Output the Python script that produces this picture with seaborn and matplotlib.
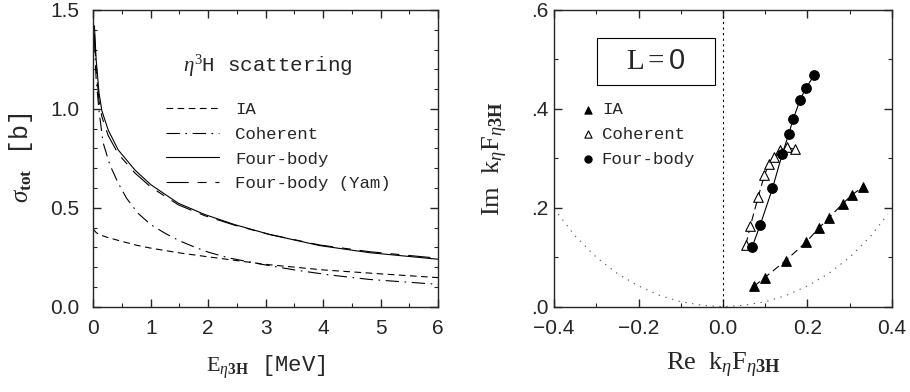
import matplotlib
matplotlib.use("Agg")
import matplotlib.pyplot as plt
from matplotlib.ticker import MultipleLocator, FuncFormatter
from matplotlib.patches import Rectangle
import seaborn as sns
import pandas as pd

# ---------------- data: left panel (total cross section) ----------------
E_ia = [0.0, 0.05, 0.1, 0.25, 0.5, 0.75, 1.0, 1.5, 2.0, 2.5, 3.0, 4.0, 5.0, 6.0]
sig_ia = [0.392, 0.375, 0.365, 0.350, 0.330, 0.311, 0.296, 0.272, 0.252, 0.233, 0.214, 0.186, 0.166, 0.147]

E_coh = [0.02, 0.05, 0.1, 0.17, 0.29, 0.435, 0.58, 0.78, 1.0, 1.25, 1.5, 1.75, 2.0, 2.35, 2.9, 3.5, 4.1, 4.8, 6.0]
sig_coh = [1.35, 1.15, 0.99, 0.83, 0.716, 0.624, 0.548, 0.472, 0.415, 0.371, 0.333, 0.303, 0.276, 0.247, 0.216, 0.186, 0.161, 0.138, 0.113]

E_fb = [0.02, 0.05, 0.1, 0.15, 0.26, 0.435, 0.725, 1.0, 1.48, 1.94, 2.46, 3.07, 3.94, 4.81, 6.0]
sig_fb = [1.42, 1.25, 1.08, 0.99, 0.893, 0.792, 0.691, 0.617, 0.523, 0.466, 0.415, 0.365, 0.309, 0.273, 0.240]

E_yam = [0.02, 0.05, 0.1, 0.15, 0.26, 0.435, 0.725, 1.0, 1.48, 1.94, 2.46, 3.07, 3.94, 4.81, 6.0]
sig_yam = [1.38, 1.20, 1.04, 0.96, 0.865, 0.772, 0.676, 0.605, 0.515, 0.460, 0.412, 0.365, 0.312, 0.278, 0.245]

# ---------------- data: right panel (Argand plot) ----------------
re_ia = [0.073, 0.099, 0.148, 0.196, 0.227, 0.250, 0.283, 0.305, 0.331]
im_ia = [0.041, 0.059, 0.093, 0.130, 0.159, 0.179, 0.208, 0.226, 0.242]

re_coh = [0.054, 0.065, 0.083, 0.098, 0.109, 0.120, 0.134, 0.151, 0.171]
im_coh = [0.125, 0.164, 0.221, 0.266, 0.289, 0.302, 0.317, 0.322, 0.318]

re_fb = [0.069, 0.088, 0.117, 0.140, 0.156, 0.166, 0.182, 0.196, 0.216]
im_fb = [0.121, 0.165, 0.239, 0.308, 0.350, 0.379, 0.417, 0.442, 0.468]

re_unit = [-0.39, -0.35, -0.3, -0.25, -0.2, -0.15, -0.1, -0.05, 0.0, 0.05, 0.1, 0.15, 0.2, 0.25, 0.3, 0.35, 0.39]
im_unit = [0.187, 0.143, 0.100, 0.067, 0.042, 0.023, 0.010, 0.003, 0.0, 0.003, 0.010, 0.023, 0.042, 0.067, 0.100, 0.143, 0.187]

# ---------------- style ----------------
sns.set_style("ticks")
plt.rcParams["font.family"] = ["Liberation Sans", "DejaVu Sans"]
plt.rcParams["mathtext.fontset"] = "custom"
plt.rcParams["mathtext.rm"] = "Liberation Serif"
plt.rcParams["mathtext.it"] = "Liberation Serif:italic"
plt.rcParams["mathtext.bf"] = "Liberation Serif:bold"
plt.rcParams["mathtext.sf"] = "Liberation Sans"
for ax_ in ("xtick", "ytick"):
    plt.rcParams[f"{ax_}.direction"] = "in"
    plt.rcParams[f"{ax_}.major.size"] = 5.5
    plt.rcParams[f"{ax_}.minor.size"] = 3
    plt.rcParams[f"{ax_}.major.width"] = 1.0
    plt.rcParams[f"{ax_}.minor.width"] = 0.8
    plt.rcParams[f"{ax_}.labelsize"] = 15
plt.rcParams["xtick.top"] = True
plt.rcParams["ytick.right"] = True
plt.rcParams["xtick.minor.top"] = True
plt.rcParams["ytick.minor.right"] = True
plt.rcParams["axes.linewidth"] = 1.0

fig = plt.figure(figsize=(9.1, 3.92), dpi=100)
ax1 = fig.add_axes([0.1025, 0.2176, 0.3788, 0.757])
ax2 = fig.add_axes([0.6088, 0.2176, 0.3714, 0.757])

lw = 0.8
mono = ["Liberation Mono", "DejaVu Sans Mono"]
serif = ["Liberation Serif", "DejaVu Serif"]

# ---------------- left panel ----------------
curves = [
    (E_ia, sig_ia, "IA", (6, 4)),
    (E_coh, sig_coh, "Coherent", (12, 5, 1.5, 5)),
    (E_fb, sig_fb, "Four-body", None),
    (E_yam, sig_yam, "Four-body (Yam)", (20, 8, 8, 8)),
]
for xs, ys, lab, dash in curves:
    df = pd.DataFrame({"E": xs, "s": ys})
    sns.lineplot(data=df, x="E", y="s", ax=ax1, color="black", lw=lw,
                 sort=False, estimator=None, label=lab)
    line = ax1.get_lines()[-1]
    if dash is not None:
        line.set_dashes(dash)

ax1.set_xlim(0, 6)
ax1.set_ylim(0, 1.5)
ax1.xaxis.set_major_locator(MultipleLocator(1))
ax1.xaxis.set_minor_locator(MultipleLocator(0.5))
ax1.yaxis.set_major_locator(MultipleLocator(0.5))
ax1.yaxis.set_minor_locator(MultipleLocator(0.1))
ax1.yaxis.set_major_formatter(FuncFormatter(lambda v, p: f"{v:.1f}"))
ax1.tick_params(axis="x", which="major", pad=9)
ax1.tick_params(axis="y", which="major", pad=10)
ax1.set_xlabel(r"$\mathrm{E}_{\eta\mathbf{3H}}$ [MeV]", fontsize=16,
               family=mono, labelpad=11)
ax1.set_ylabel(r"$\sigma_{\mathbf{tot}}$ [b]", fontsize=18, family=mono, labelpad=11)
ax1.text(0.26, 0.81, r"$\eta^3$H scattering", transform=ax1.transAxes,
         fontsize=15, family=mono, va="center")
ax1.legend(loc="upper left", bbox_to_anchor=(0.21, 0.69), frameon=False,
           prop={"family": mono, "size": 12.5}, handlelength=3.1,
           handletextpad=0.9, labelspacing=0.55, borderaxespad=0, borderpad=0)

# ---------------- right panel ----------------
ax2.axvline(0, color="black", lw=0.8, dashes=(2, 3))
du = pd.DataFrame({"re": re_unit, "im": im_unit})
sns.lineplot(data=du, x="re", y="im", ax=ax2, color="0.35", lw=0.8,
             sort=False, estimator=None)
ax2.get_lines()[-1].set_dashes((1.2, 5))

series = [
    (re_ia, im_ia, "IA", "^", "black", (7, 4)),
    (re_coh, im_coh, "Coherent", "^", "white", (7, 4)),
    (re_fb, im_fb, "Four-body", "o", "black", None),
]
for xs, ys, lab, mk, fc, dash in series:
    df = pd.DataFrame({"re": xs, "im": ys})
    sns.lineplot(data=df, x="re", y="im", ax=ax2, color="black", lw=0.8,
                 sort=False, estimator=None)
    if dash is not None:
        ax2.get_lines()[-1].set_dashes(dash)
    sns.scatterplot(data=df, x="re", y="im", ax=ax2, marker=mk, s=48,
                    facecolor=fc, edgecolor="black", linewidth=0.8,
                    label=lab, zorder=5)

ax2.set_xlim(-0.4, 0.4)
ax2.set_ylim(0, 0.6)
ax2.xaxis.set_major_locator(MultipleLocator(0.2))
ax2.xaxis.set_minor_locator(MultipleLocator(0.1))
ax2.yaxis.set_major_locator(MultipleLocator(0.2))
ax2.yaxis.set_minor_locator(MultipleLocator(0.1))
ax2.xaxis.set_major_formatter(FuncFormatter(lambda v, p: f"{v:.1f}".replace("-", "\u2212")))
ax2.yaxis.set_major_formatter(FuncFormatter(lambda v, p: f"{v:.1f}".lstrip("0")))
ax2.tick_params(axis="x", which="major", pad=9)
ax2.tick_params(axis="y", which="major", pad=4)
ax2.set_xlabel(r"Re  k$_\eta$F$_{\eta\mathbf{3H}}$", fontsize=19, family=serif, labelpad=9)
ax2.set_ylabel(r"Im  k$_\eta$F$_{\eta\mathbf{3H}}$", fontsize=19, family=serif, labelpad=15)
ax2.add_patch(Rectangle((0.127, 0.747), 0.349, 0.159, transform=ax2.transAxes,
                        fc="white", ec="black", lw=0.8, zorder=6))
ax2.text(0.302, 0.826, r"L$=\mathsf{0}$", transform=ax2.transAxes, fontsize=21,
         family=serif, ha="center", va="center", zorder=7)
ax2.legend(loc="upper left", bbox_to_anchor=(0.085, 0.69), frameon=False,
           prop={"family": mono, "size": 12.5}, markerscale=0.75,
           handlelength=0.6, handletextpad=0.5, labelspacing=0.55,
           borderaxespad=0, borderpad=0)

fig.savefig("out.png", dpi=100)
